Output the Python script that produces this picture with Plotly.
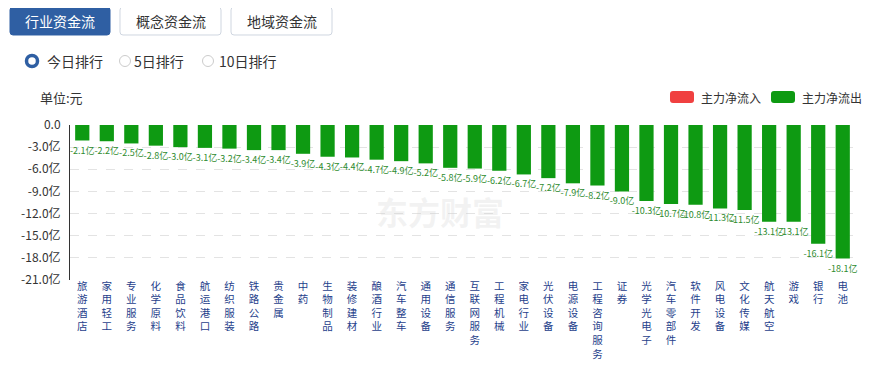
import plotly.graph_objects as go

categories = ["旅游酒店", "家用轻工", "专业服务", "化学原料", "食品饮料", "航运港口", "纺织服装", "铁路公路",
              "贵金属", "中药", "生物制品", "装修建材", "酿酒行业", "汽车整车", "通用设备", "通信服务",
              "互联网服务", "工程机械", "家电行业", "光伏设备", "电源设备", "工程咨询服务", "证券", "光学光电子",
              "汽车零部件", "软件开发", "风电设备", "文化传媒", "航天航空", "游戏", "银行", "电池"]
values = [-2.1, -2.2, -2.5, -2.8, -3.0, -3.1, -3.2, -3.4, -3.4, -3.9, -4.3, -4.4, -4.7, -4.9, -5.2, -5.8,
          -5.9, -6.2, -6.7, -7.2, -7.9, -8.2, -9.0, -10.3, -10.7, -10.8, -11.3, -11.5, -13.1, -13.1, -16.1, -18.1]
y_ticks = [0, -3, -6, -9, -12, -15, -18, -21]
y_tick_labels = ["0.0", "-3.0亿", "-6.0亿", "-9.0亿", "-12.0亿", "-15.0亿", "-18.0亿", "-21.0亿"]

# page body has an 8px margin: figure is placed at (8, 8) in the window
OFF = 8
WIN_W, WIN_H = 871, 365
W, H = WIN_W - OFF, WIN_H - OFF
L, R, T, B = 70, 855, 125, 280  # plot area in window pixels
FONT = "Noto Sans CJK SC"


def px(x):
    return (x - L) / (R - L)


def py(y):
    return (B - y) / (B - T)


def rrect(x0, y0, x1, y1, r=3):
    def P(x, y):
        return f"{px(x):.5f},{py(y):.5f}"
    return (f"M {P(x0 + r, y0)} L {P(x1 - r, y0)} Q {P(x1, y0)} {P(x1, y0 + r)} "
            f"L {P(x1, y1 - r)} Q {P(x1, y1)} {P(x1 - r, y1)} L {P(x0 + r, y1)} "
            f"Q {P(x0, y1)} {P(x0, y1 - r)} L {P(x0, y0 + r)} Q {P(x0, y0)} {P(x0 + r, y0)} Z")


tick_text = ["<br>".join(list(c)) for c in categories]
labels = [f"{v:.1f}亿" for v in values]

fig = go.Figure()
fig.add_trace(go.Bar(
    x=categories, y=values, marker=dict(color="#0e9a12", line=dict(width=0)),
    text=labels, textposition="outside", textfont=dict(size=9, color="#2e8b2e", family=FONT),
    cliponaxis=False, constraintext="none", showlegend=False, hoverinfo="skip",
))

shapes = []
annotations = []

# tabs
tabs = [("行业资金流", 10, 110, True), ("概念资金流", 120, 221, False), ("地域资金流", 231, 332, False)]
for name, x0, x1, active in tabs:
    shapes.append(dict(type="path", xref="paper", yref="paper", path=rrect(x0, 7, x1, 35),
                       fillcolor="#2f5fa3" if active else "#ffffff",
                       line=dict(color="#2f5fa3" if active else "#cfd6e0", width=1)))
    annotations.append(dict(xref="paper", yref="paper", x=px((x0 + x1) / 2), y=py(21), text=name,
                            showarrow=False, xanchor="center", yanchor="middle",
                            font=dict(size=14, color="#ffffff" if active else "#333333", family=FONT)))

# radio buttons
radios = [("今日排行", 32, 45, True), ("5日排行", 125, 132, False), ("10日排行", 208, 217, False)]
for name, cx, tx, active in radios:
    r = 5.5
    shapes.append(dict(type="circle", xref="paper", yref="paper",
                       x0=px(cx - r), x1=px(cx + r), y0=py(61 + r), y1=py(61 - r),
                       fillcolor="#ffffff",
                       line=dict(color="#2f5fa3" if active else "#cccccc", width=3.5 if active else 1)))
    annotations.append(dict(xref="paper", yref="paper", x=px(tx), y=py(61), text=name, showarrow=False,
                            xanchor="left", yanchor="middle", font=dict(size=14, color="#333333", family=FONT)))

# unit label
annotations.append(dict(xref="paper", yref="paper", x=px(38), y=py(97), text="单位:元", showarrow=False,
                        xanchor="left", yanchor="middle", font=dict(size=13, color="#333333", family=FONT)))

# legend
for name, x0, x1, tx, col in [("主力净流入", 670, 694, 699, "#f04040"), ("主力净流出", 771, 795, 800, "#0e9a12")]:
    shapes.append(dict(type="path", xref="paper", yref="paper", path=rrect(x0, 91, x1, 103, 3),
                       fillcolor=col, line=dict(width=0)))
    annotations.append(dict(xref="paper", yref="paper", x=px(tx), y=py(97), text=name, showarrow=False,
                            xanchor="left", yanchor="middle", font=dict(size=12, color="#333333", family=FONT)))

# watermark
annotations.append(dict(xref="paper", yref="paper", x=px(440), y=py(211), text="<b>东方财富</b>", showarrow=False,
                        xanchor="center", yanchor="middle", font=dict(size=32, color="rgba(210,210,210,0.28)", family=FONT)))

fig.update_layout(
    width=W, height=H,
    margin=dict(l=L - OFF, r=WIN_W - R, t=T - OFF, b=WIN_H - B, pad=0, autoexpand=False),
    paper_bgcolor="#ffffff", plot_bgcolor="#ffffff",
    bargap=0.42, shapes=shapes, annotations=annotations,
    font=dict(family=FONT),
    xaxis=dict(tickmode="array", tickvals=categories, ticktext=tick_text, tickangle=0, automargin=False,
               tickfont=dict(size=10.5, color="#1f3f8c", family=FONT), showgrid=False, showline=False,
               ticks="", zeroline=False, fixedrange=True, ticklabelstandoff=-2),
    yaxis=dict(range=[-21, 0], tickmode="array", tickvals=y_ticks, ticktext=y_tick_labels, automargin=False,
               tickfont=dict(size=12, color="#333333", family=FONT), showgrid=True, gridcolor="#e3e3e3",
               griddash="dash", gridwidth=1, zeroline=False, showline=True, linecolor="#333333",
               linewidth=1, ticks="", ticklabelstandoff=6, fixedrange=True),
)

fig.write_html("out.html")
